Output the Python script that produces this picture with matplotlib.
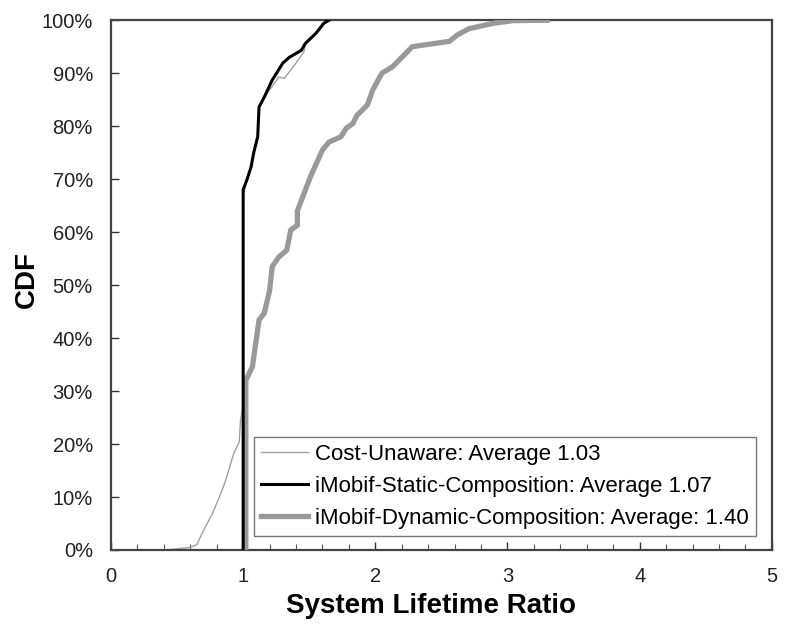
import matplotlib
matplotlib.use("Agg")
import matplotlib.pyplot as plt
from matplotlib.ticker import MultipleLocator, PercentFormatter

plt.rcParams['font.family'] = ['Liberation Sans', 'DejaVu Sans']

# Cost-Unaware
cu_x = [0.42, 0.60, 0.65, 0.69, 0.77, 0.82, 0.86, 0.89, 0.93, 0.97, 0.98, 1.00, 1.00, 1.03, 1.06, 1.08,
        1.11, 1.12, 1.16, 1.22, 1.27, 1.31, 1.40, 1.46, 1.47, 1.55, 1.61, 1.65]
cu_y = [0, 0.5, 1, 3.2, 7, 10, 12.6, 15, 18.3, 20.4, 24.5, 27, 67, 70, 72.3, 75,
        78, 83.6, 85.5, 87.5, 89.3, 89, 91.9, 94, 95.6, 97.5, 99.4, 100]
# iMobif-Static-Composition
st_x = [1.00, 1.00, 1.03, 1.06, 1.08, 1.11, 1.12, 1.16, 1.22, 1.30, 1.35, 1.44, 1.47, 1.55, 1.61, 1.65]
st_y = [0, 68, 70, 72.3, 75, 78, 83.6, 85.5, 88.7, 91.9, 93, 94.3, 95.6, 97.5, 99.4, 100]
# iMobif-Dynamic-Composition
dy_x = [1.02, 1.02, 1.07, 1.12, 1.16, 1.20, 1.22, 1.27, 1.33, 1.36, 1.41, 1.41, 1.51, 1.60, 1.65,
        1.74, 1.78, 1.83, 1.86, 1.94, 1.98, 2.05, 2.13, 2.28, 2.56, 2.62, 2.71, 2.89, 3.04, 3.30]
dy_y = [0, 32, 34.6, 43.4, 44.7, 49, 53.5, 55.3, 56.6, 60.4, 61.3, 64, 70.5, 75.5, 77,
        78, 79.6, 80.5, 82, 84, 86.8, 90, 91.2, 95, 96, 97.2, 98.4, 99.4, 99.9, 100]

labels = ["Cost-Unaware: Average 1.03",
          "iMobif-Static-Composition: Average 1.07",
          "iMobif-Dynamic-Composition: Average: 1.40"]

fig = plt.figure(figsize=(7.9, 6.3), dpi=100)
ax = fig.add_axes([0.1405, 0.127, 0.8365, 0.841])

l_cu, = ax.plot(cu_x, cu_y, color='#a0a0a0', lw=1.0, label=labels[0], zorder=2)
l_dy, = ax.plot(dy_x, dy_y, color='#999999', lw=3.8, label=labels[2], zorder=3)
l_st, = ax.plot(st_x, st_y, color='black', lw=2.2, label=labels[1], zorder=4)

ax.set_xlim(0, 5)
ax.set_ylim(0, 100)
ax.xaxis.set_major_locator(MultipleLocator(1))
ax.xaxis.set_minor_locator(MultipleLocator(0.2))
ax.yaxis.set_major_locator(MultipleLocator(10))
ax.yaxis.set_major_formatter(PercentFormatter(decimals=0))
ax.tick_params(axis='both', which='major', direction='in', length=6, width=1, labelsize=14.5,
               colors='#333333', labelcolor='#222222')
ax.tick_params(axis='x', which='major', pad=12)
ax.tick_params(axis='y', which='major', pad=13)
ax.tick_params(axis='x', which='minor', direction='in', length=4, width=0.8, colors='#555555')
for s in ax.spines.values():
    s.set_linewidth(1.6)
    s.set_color('#444444')

ax.set_xlabel("System Lifetime Ratio", fontsize=20, fontweight='bold')
ax.set_ylabel("CDF", fontsize=20, fontweight='bold')
ax.xaxis.set_label_coords(0.484, -0.082)
ax.yaxis.set_label_coords(-0.107, 0.51)

leg = ax.legend([l_cu, l_st, l_dy], labels, loc='lower right',
                bbox_to_anchor=(0.976, 0.026), borderaxespad=0, fontsize=16,
                fancybox=False, framealpha=1, edgecolor='#777777', handlelength=2.15,
                handletextpad=0.3, labelspacing=0.5, borderpad=0.32)
leg.get_frame().set_linewidth(1.0)

fig.savefig("out.png", dpi=100)
